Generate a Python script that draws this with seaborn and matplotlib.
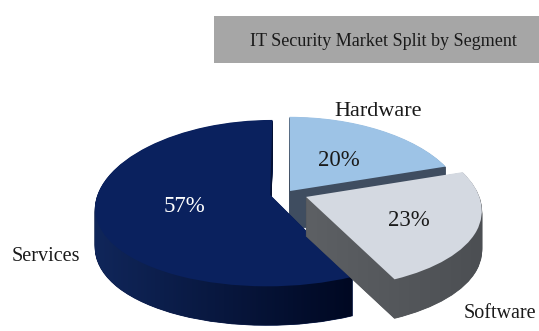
import matplotlib
matplotlib.use("Agg")
import numpy as np
import matplotlib.pyplot as plt
import matplotlib.transforms as mtransforms
from matplotlib.patches import Rectangle
from matplotlib.path import Path
from matplotlib.colors import LinearSegmentedColormap
import seaborn as sns

# Segment shares (percent), listed clockwise from 12 o'clock
segments = ["Hardware", "Software", "Services"]
shares = [20, 23, 57]
explode = [0.03, 0.12, 0.10]
# radial position of each percentage label (fraction of the radius)
pct_radius = [0.52, 0.62, 0.50]

top_colors = ["#9dc3e6", "#d4d9e1", "#0a215e"]
side_colors = ["#3f4d60", "#55585c", "#071847"]
# left-to-right shading of each side wall (None = flat colour)
side_shades = [None, ("#5d6064", "#4c4f53"), ("#10265a", "#000822")]
pct_colors = ["#1a1a1a", "#1a1a1a", "#ffffff"]
# painter's order for the slices: back first, front last
draw_rank = [0, 2, 1]

title = "IT Security Market Split by Segment"


class Tilt(mtransforms.Transform):
    """Tilted-disc projection: the far side of the pie shrinks, the near side grows."""
    input_dims = output_dims = 2
    is_separable = False
    has_inverse = False

    def __init__(self, kx, ky):
        super().__init__()
        self.kx, self.ky = kx, ky

    def transform_non_affine(self, xy):
        xy = np.asarray(xy, dtype=float)
        x, y = xy[:, 0], xy[:, 1]
        return np.column_stack([x / (1 + self.kx * y), y / (1 + self.ky * y)])


sns.set_theme(style="white")
plt.rcParams["font.family"] = ["Liberation Serif", "DejaVu Serif"]

W, H = 539, 331
fig = plt.figure(figsize=(W / 100, H / 100), dpi=100)
ax = fig.add_axes([0, 0, 1, 1])

# pie centre (pixels from top-left) and radii of the unit disc in pixels
cx, cy, rx, ry = 287, 193, 172, 82
depth_px = 39
tilt = Tilt(0.15, 0.10)


def plane_to_data(drop=0.0):
    return tilt + mtransforms.Affine2D().scale(rx, ry).translate(cx, H - cy - drop) + ax.transData


def fix_limits():
    ax.set_xlim(0, W)
    ax.set_ylim(0, H)
    ax.axis("off")


# extruded side walls: stack copies of the pie downward
for k in range(depth_px, 0, -1):
    wedges, _ = ax.pie(shares, explode=explode, startangle=90, counterclock=False,
                       colors=side_colors, radius=1, frame=True,
                       wedgeprops=dict(linewidth=0.6))
    for w, r, c in zip(wedges, draw_rank, side_colors):
        w.set_transform(plane_to_data(k))
        w.set_edgecolor(c)
        w.set_zorder(1 + 3 * r)

# top faces with percentage labels
wedges, _, autotexts = ax.pie(shares, explode=explode, startangle=90, counterclock=False,
                              colors=top_colors, radius=1, frame=True,
                              autopct=lambda p: f"{p:.0f}%",
                              wedgeprops=dict(linewidth=0))
for w, r in zip(wedges, draw_rank):
    w.set_transform(plane_to_data(0))
    w.set_zorder(3 + 3 * r)
for w, t, c, pr in zip(wedges, autotexts, pct_colors, pct_radius):
    mid = np.deg2rad((w.theta1 + w.theta2) / 2)
    ox, oy = w.center
    t.set_position((ox + pr * np.cos(mid), oy + pr * np.sin(mid)))
    t.set_transform(plane_to_data(0))
    t.set_color(c)
    t.set_fontsize(16.5)
    t.set_verticalalignment("center_baseline")
    t.set_zorder(20)

fix_limits()

# shaded overlay on the side walls, clipped to each slice's extruded outline
wall_patches = [p for p in ax.patches if p.get_zorder() % 3 == 1]
n_slices = len(shares)
for i, shade in enumerate(side_shades):
    if shade is None:
        continue
    r = draw_rank[i]
    parts = [p.get_transform().transform_path(p.get_path())
             for p in wall_patches[i::n_slices]]
    clip = Path.make_compound_path(*parts)
    cmap = LinearSegmentedColormap.from_list(f"wall{i}", list(shade))
    ext = clip.get_extents()
    x0, y0 = ax.transData.inverted().transform((ext.x0, ext.y0))
    x1, y1 = ax.transData.inverted().transform((ext.x1, ext.y1))
    im = ax.imshow(np.linspace(0, 1, 256)[None, :], cmap=cmap, aspect="auto",
                   extent=(x0, x1, y0, y1), origin="lower", zorder=2 + 3 * r,
                   interpolation="bilinear")
    im.set_clip_path(clip, transform=mtransforms.IdentityTransform())

fix_limits()

# category names around the pie (x centre, baseline y, size)
label_pos = {"Hardware": (378, 116, 16), "Software": (500, 318, 14.5), "Services": (46, 261, 14.5)}
for name in segments:
    px, py, fs = label_pos[name]
    fig.text(px / W, 1 - py / H, name, ha="center", va="baseline",
             fontsize=fs, color="#1a1a1a")

# title banner
fig.patches.append(Rectangle((214 / W, 1 - 63 / H), 325 / W, 47 / H,
                             transform=fig.transFigure, facecolor="#a6a6a6",
                             edgecolor="none", zorder=0))
fig.text(383 / W, 1 - 46.5 / H, title, ha="center", va="baseline",
         fontsize=13, color="#1a1a1a")

fig.savefig("out.png", dpi=100)
